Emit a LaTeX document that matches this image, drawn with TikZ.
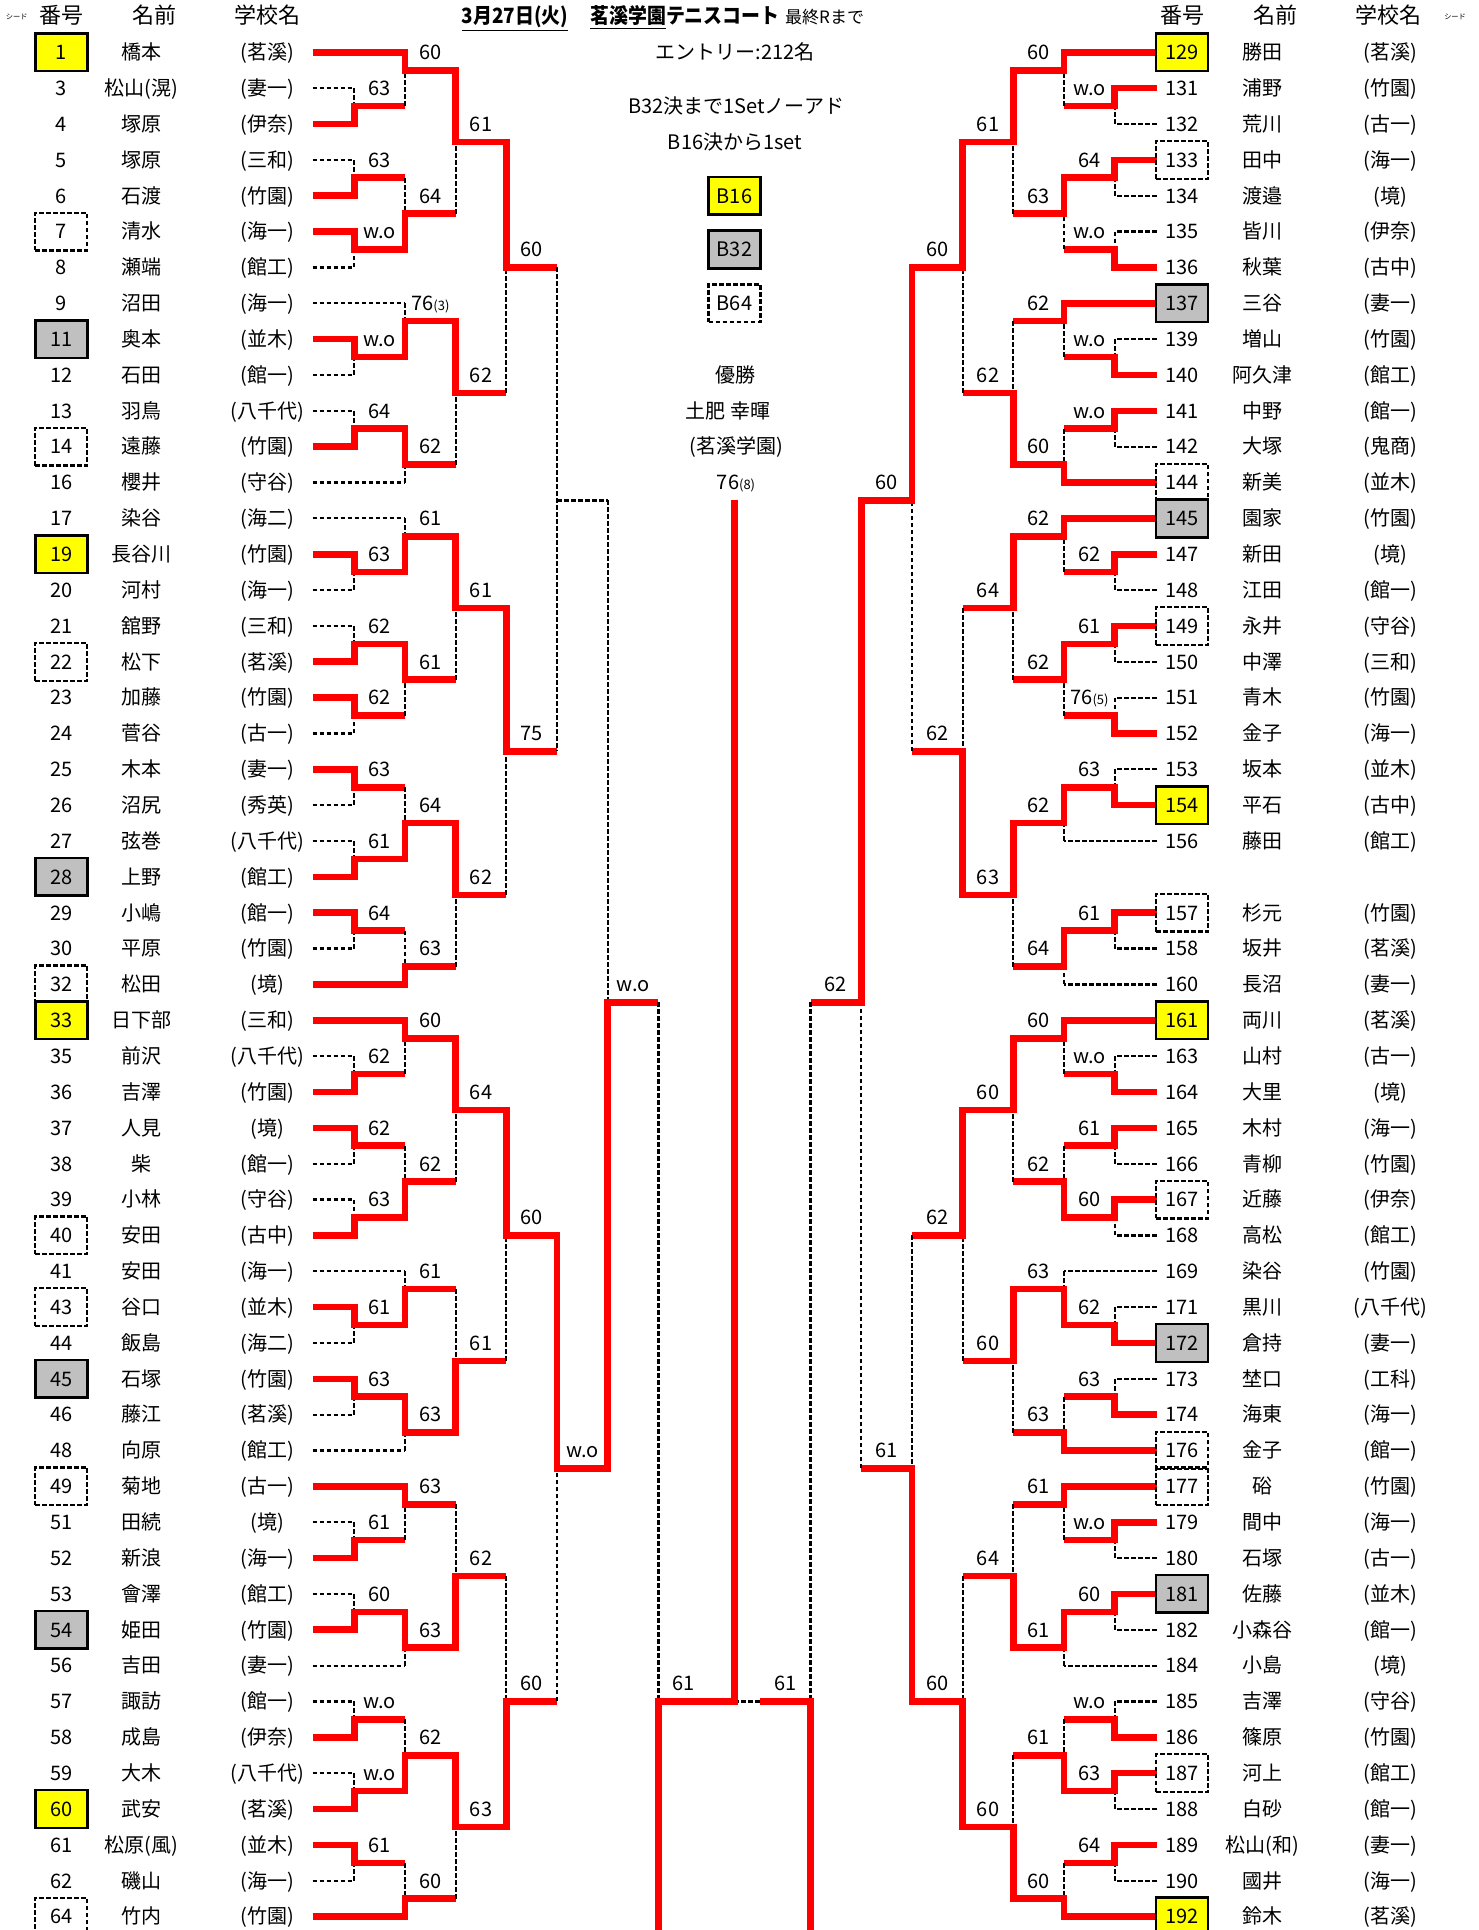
\documentclass[tikz,border=0pt]{standalone}
\usepackage{fontspec}
\setmainfont{Noto Sans CJK JP}
\newfontfamily\ttlfont{Noto Sans CJK JP}[FakeStretch=0.9]
\usepackage{tikz}

\definecolor{winred}{HTML}{FF0000}
\definecolor{seedyel}{HTML}{FFFF00}
\definecolor{seedgry}{HTML}{C0C0C0}

\tikzset{
  win/.style={draw=winred, line width=3.3pt, line join=miter},
  lose/.style={draw=black, line width=1.1pt, dash pattern=on 2.4pt off 1.1pt},
  txt/.style={inner sep=0pt, font=\fontsize{10}{12}\selectfont, text height=8.8pt, text depth=1.5pt},
  head/.style={txt, font=\fontsize{11}{13}\selectfont},
  ttl/.style={txt, font=\ttlfont\bfseries\fontsize{10.5}{12}\selectfont},
  seedlbl/.style={inner sep=0pt, font=\fontsize{3.6}{4}\selectfont},
  numbox/.style={txt, minimum width=26pt, minimum height=18.85pt},
  bY/.style={draw, line width=1.3pt, fill=seedyel},
  bG/.style={draw, line width=1.3pt, fill=seedgry},
  bD/.style={draw, line width=1.1pt, dash pattern=on 2.4pt off 1.1pt},
  bN/.style={},
}

\newcount\scn
\newcommand{\sm}[1]{{\fontsize{6.5}{7}\selectfont #1}}

% side (-1 left, 1 right), round, top, bottom, out, winner t/b, score
\newcommand{\mt}[7]{%
  \pgfmathsetmacro\xj{734.5+#1*(8.5-#2)*50.7}%
  \pgfmathsetmacro\xn{734.5+#1*(7.5-#2)*50.7}%
  \pgfmathsetmacro\xs{734.5+#1*(8-#2)*50.7}%
  \if t#6\def\hw{#3}\def\hl{#4}\else\def\hw{#4}\def\hl{#3}\fi
  \draw[lose] (\xj,\hl) -- (\xj,#5);
  \draw[win] ({\xj+#1*6},\hw) -- (\xj,\hw) -- (\xj,#5) -- (\xn,#5);
  \global\advance\scn by 1
  \node[txt] (sc\the\scn) at (\xs,#5-1) {#7};
}

\begin{document}
\begin{tikzpicture}[x=0.5pt, y=-8.9625pt]
  \useasboundingbox (0,-2.918) rectangle (1478,104.75);

  % Title and column heads
  \node[ttl] (tdate) at (515,-2) {\underline{3月27日(火)}};
  \node[ttl, anchor=west] (tsite) at (590,-2) {\underline{茗溪学園}テニスコート};
  \node[txt, font=\fontsize{8.5}{10}\selectfont, anchor=west] (tnote) at ([xshift=2.5pt]tsite.east) {最終Rまで};
  \node[seedlbl] (lseed) at (16.7,-2) {シード};
  \node[head] (lnum) at (61.7,-2) {番号};
  \node[head] (lname) at (154,-2) {名前};
  \node[head] (lsch) at (267.5,-2) {学校名};
  \node[head] (rnum) at (1182,-2) {番号};
  \node[head] (rname) at (1275,-2) {名前};
  \node[head] (rsch) at (1388.6,-2) {学校名};
  \node[seedlbl] (rseed) at (1455,-2) {シード};

  % Centre column
  \node[txt] (entry) at (735,0) {エントリー:212名};
  \node[txt] (rule1) at (736,3) {B32決まで1Setノーアド};
  \node[txt] (rule2) at (735,5) {B16決から1set};
  \node[numbox, bY] (k16) at (734.5,8) {B16};
  \node[numbox, bG] (k32) at (734.5,11) {B32};
  \node[numbox, bD] (k64) at (734.5,14) {B64};
  \node[txt] (champ) at (735,18) {優勝};
  \node[txt] (champn) at (728,20) {土肥 幸暉};
  \node[txt] (champs) at (736,22) {(茗溪学園)};
  \node[txt] (champsc) at (736,24) {76\sm{(8)}};

  % Left half entries
  \foreach \rh/\rno/\rnm/\rsc/\rbx/\rlv/\rst in {
    0/1/橋本/茗溪/bY/2/win, 2/3/{松山(滉)}/妻一/bN/1/lose, 4/4/塚原/伊奈/bN/1/win,
    6/5/塚原/三和/bN/1/lose, 8/6/石渡/竹園/bN/1/win, 10/7/清水/海一/bD/1/win,
    12/8/瀬端/館工/bN/1/lose, 14/9/沼田/海一/bN/2/lose, 16/11/奥本/並木/bG/1/win,
    18/12/石田/館一/bN/1/lose, 20/13/羽鳥/八千代/bN/1/lose, 22/14/遠藤/竹園/bD/1/win,
    24/16/櫻井/守谷/bN/2/lose, 26/17/染谷/海二/bN/2/lose, 28/19/長谷川/竹園/bY/1/win,
    30/20/河村/海一/bN/1/lose, 32/21/舘野/三和/bN/1/lose, 34/22/松下/茗溪/bD/1/win,
    36/23/加藤/竹園/bN/1/win, 38/24/菅谷/古一/bN/1/lose, 40/25/木本/妻一/bN/1/win,
    42/26/沼尻/秀英/bN/1/lose, 44/27/弦巻/八千代/bN/1/lose, 46/28/上野/館工/bG/1/win,
    48/29/小嶋/館一/bN/1/win, 50/30/平原/竹園/bN/1/lose, 52/32/松田/境/bD/2/win,
    54/33/日下部/三和/bY/2/win, 56/35/前沢/八千代/bN/1/lose, 58/36/吉澤/竹園/bN/1/win,
    60/37/人見/境/bN/1/win, 62/38/柴/館一/bN/1/lose, 64/39/小林/守谷/bN/1/lose,
    66/40/安田/古中/bD/1/win, 68/41/安田/海一/bN/2/lose, 70/43/谷口/並木/bD/1/win,
    72/44/飯島/海二/bN/1/lose, 74/45/石塚/竹園/bG/1/win, 76/46/藤江/茗溪/bN/1/lose,
    78/48/向原/館工/bN/2/lose, 80/49/菊地/古一/bD/2/win, 82/51/田続/境/bN/1/lose,
    84/52/新浪/海一/bN/1/win, 86/53/會澤/館工/bN/1/lose, 88/54/姫田/竹園/bG/1/win,
    90/56/吉田/妻一/bN/2/lose, 92/57/諏訪/館一/bN/1/lose, 94/58/成島/伊奈/bN/1/win,
    96/59/大木/八千代/bN/1/lose, 98/60/武安/茗溪/bY/1/win, 100/61/{松原(風)}/並木/bN/1/win,
    102/62/磯山/海一/bN/1/lose, 104/64/竹内/竹園/bD/2/win}
  {
    \draw[\rst] (312.5,\rh) -- ({734.5-(8.5-\rlv)*50.7},\rh);
    \node[numbox, \rbx] (L\rno) at (61.2,\rh) {\rno};
    \node[txt] (Ln\rno) at (141.5,\rh) {\rnm};
    \node[txt] (Ls\rno) at (267.5,\rh) {(\rsc)};
  }

  % Right half entries
  \foreach \rh/\rno/\rnm/\rsc/\rbx/\rlv/\rst in {
    0/129/勝田/茗溪/bY/2/win, 2/131/浦野/竹園/bN/1/win, 4/132/荒川/古一/bN/1/lose,
    6/133/田中/海一/bD/1/win, 8/134/渡邉/境/bN/1/lose, 10/135/皆川/伊奈/bN/1/lose,
    12/136/秋葉/古中/bN/1/win, 14/137/三谷/妻一/bG/2/win, 16/139/増山/竹園/bN/1/lose,
    18/140/阿久津/館工/bN/1/win, 20/141/中野/館一/bN/1/win, 22/142/大塚/鬼商/bN/1/lose,
    24/144/新美/並木/bD/2/win, 26/145/園家/竹園/bG/2/win, 28/147/新田/境/bN/1/win,
    30/148/江田/館一/bN/1/lose, 32/149/永井/守谷/bD/1/win, 34/150/中澤/三和/bN/1/lose,
    36/151/青木/竹園/bN/1/lose, 38/152/金子/海一/bN/1/win, 40/153/坂本/並木/bN/1/lose,
    42/154/平石/古中/bY/1/win, 44/156/藤田/館工/bN/2/lose, 48/157/杉元/竹園/bD/1/win,
    50/158/坂井/茗溪/bN/1/lose, 52/160/長沼/妻一/bN/2/lose, 54/161/両川/茗溪/bY/2/win,
    56/163/山村/古一/bN/1/lose, 58/164/大里/境/bN/1/win, 60/165/木村/海一/bN/1/win,
    62/166/青柳/竹園/bN/1/lose, 64/167/近藤/伊奈/bD/1/win, 66/168/高松/館工/bN/1/lose,
    68/169/染谷/竹園/bN/2/lose, 70/171/黒川/八千代/bN/1/lose, 72/172/倉持/妻一/bG/1/win,
    74/173/埜口/工科/bN/1/lose, 76/174/海東/海一/bN/1/win, 78/176/金子/館一/bD/2/win,
    80/177/硲/竹園/bD/2/win, 82/179/間中/海一/bN/1/win, 84/180/石塚/古一/bN/1/lose,
    86/181/佐藤/並木/bG/1/win, 88/182/小森谷/館一/bN/1/lose, 90/184/小島/境/bN/2/lose,
    92/185/吉澤/守谷/bN/1/lose, 94/186/篠原/竹園/bN/1/win, 96/187/河上/館工/bD/1/win,
    98/188/白砂/館一/bN/1/lose, 100/189/{松山(和)}/妻一/bN/1/win, 102/190/國井/海一/bN/1/lose,
    104/192/鈴木/茗溪/bY/2/win}
  {
    \draw[\rst] (1156.5,\rh) -- ({734.5+(8.5-\rlv)*50.7},\rh);
    \node[numbox, \rbx] (R\rno) at (1182,\rh) {\rno};
    \node[txt] (Rn\rno) at (1262.6,\rh) {\rnm};
    \node[txt] (Rs\rno) at (1390,\rh) {(\rsc)};
  }

  % Left half matches
  \foreach \mr/\mtp/\mbt/\mout/\mwin/\msc in {
    1/2/4/3/b/63, 1/6/8/7/b/63, 1/10/12/11/t/w.o, 1/16/18/17/t/w.o, 1/20/22/21/b/64,
    1/28/30/29/t/63, 1/32/34/33/b/62, 1/36/38/37/t/62, 1/40/42/41/t/63, 1/44/46/45/b/61,
    1/48/50/49/t/64, 1/56/58/57/b/62, 1/60/62/61/t/62, 1/64/66/65/b/63, 1/70/72/71/t/61,
    1/74/76/75/t/63, 1/82/84/83/b/61, 1/86/88/87/b/60, 1/92/94/93/b/w.o, 1/96/98/97/b/w.o,
    1/100/102/101/t/61,
    2/0/3/1/t/60, 2/7/11/9/b/64, 2/14/17/15/b/76\sm{(3)}, 2/21/24/23/t/62, 2/26/29/27/b/61,
    2/33/37/35/t/61, 2/41/45/43/b/64, 2/49/52/51/b/63, 2/54/57/55/t/60, 2/61/65/63/b/62,
    2/68/71/69/b/61, 2/75/78/77/t/63, 2/80/83/81/t/63, 2/87/90/89/t/63, 2/93/97/95/b/62,
    2/101/104/103/b/60,
    3/1/9/5/t/61, 3/15/23/19/t/62, 3/27/35/31/t/61, 3/43/51/47/t/62, 3/55/63/59/t/64,
    3/69/77/73/b/61, 3/81/89/85/b/62, 3/95/103/99/t/63,
    4/5/19/12/t/60, 4/31/47/39/t/75, 4/59/73/66/t/60, 4/85/99/92/b/60,
    5/66/92/79/t/w.o, 6/25/79/53/b/w.o}
  {\mt{-1}{\mr}{\mtp}{\mbt}{\mout}{\mwin}{\msc}}
  % no result in this one
  \draw[lose] (557.05,12) -- (557.05,39);
  \draw[lose] (557.05,25) -- (607.75,25);

  % Right half matches
  \foreach \mr/\mtp/\mbt/\mout/\mwin/\msc in {
    1/2/4/3/t/w.o, 1/6/8/7/t/64, 1/10/12/11/b/w.o, 1/16/18/17/b/w.o, 1/20/22/21/t/w.o,
    1/28/30/29/t/62, 1/32/34/33/t/61, 1/36/38/37/b/76\sm{(5)}, 1/40/42/41/b/63, 1/48/50/49/t/61,
    1/56/58/57/b/w.o, 1/60/62/61/t/61, 1/64/66/65/t/60, 1/70/72/71/b/62, 1/74/76/75/b/63,
    1/82/84/83/t/w.o, 1/86/88/87/t/60, 1/92/94/93/b/w.o, 1/96/98/97/t/63, 1/100/102/101/t/64,
    2/0/3/1/t/60, 2/7/11/9/t/63, 2/14/17/15/t/62, 2/21/24/23/b/60, 2/26/29/27/t/62,
    2/33/37/35/t/62, 2/41/44/43/t/62, 2/49/52/51/t/64, 2/54/57/55/t/60, 2/61/65/63/b/62,
    2/68/71/69/b/63, 2/75/78/77/b/63, 2/80/83/81/t/61, 2/87/90/89/t/61, 2/93/97/95/b/61,
    2/101/104/103/b/60,
    3/1/9/5/t/61, 3/15/23/19/b/62, 3/27/35/31/t/64, 3/43/51/47/t/63, 3/55/63/59/t/60,
    3/69/77/73/t/60, 3/81/89/85/b/64, 3/95/103/99/b/60,
    4/5/19/12/t/60, 4/31/47/39/b/62, 4/59/73/66/t/62, 4/85/99/92/b/60,
    5/12/39/25/t/60, 5/66/92/79/b/61, 6/25/79/53/t/62}
  {\mt{1}{\mr}{\mtp}{\mbt}{\mout}{\mwin}{\msc}}

  % Final
  \draw[lose] (658.45,53) -- (658.45,92);
  \draw[win] (658.45,106) -- (658.45,92) -- (734.5,92);
  \node[txt] (fl) at (683.8,91) {61};
  \draw[lose] (810.55,53) -- (810.55,92);
  \draw[win] (810.55,106) -- (810.55,92) -- (759.85,92);
  \draw[lose] (759.85,92) -- (734.5,92);
  \node[txt] (fr) at (785.2,91) {61};
  \draw[win] (728.5,92) -- (734.5,92) -- (734.5,25);
\end{tikzpicture}
\end{document}
